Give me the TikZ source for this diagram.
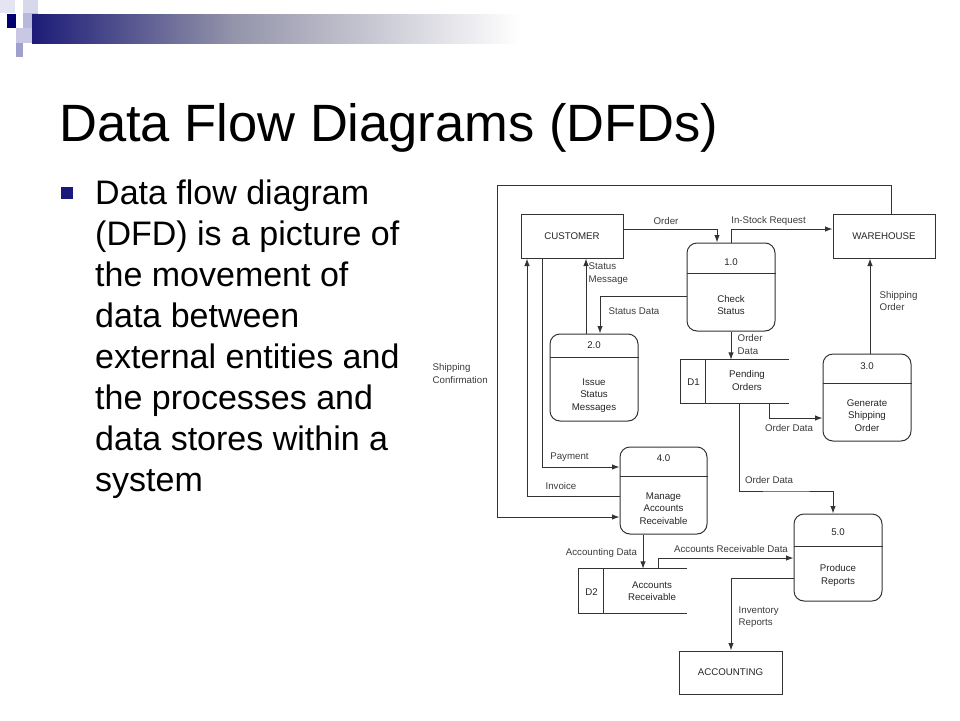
\documentclass[tikz,border=0pt]{standalone}
\usepackage{fontspec}
\setmainfont{Liberation Sans}
\usetikzlibrary{arrows.meta}
\definecolor{navy}{HTML}{1C1C78}
\definecolor{barmid}{HTML}{9494AA}
\definecolor{linec}{HTML}{333333}
\definecolor{txtc}{HTML}{262626}
\definecolor{lblc}{HTML}{3C3C3C}
\definecolor{sqa}{HTML}{E4E4F2}
\definecolor{sqb}{HTML}{D8D8EC}
\definecolor{sqc}{HTML}{B8B8DC}
\definecolor{sqd}{HTML}{C8C8E4}
\definecolor{sqe}{HTML}{A0A0CC}
\definecolor{sqn}{HTML}{000070}
\definecolor{bullc}{HTML}{1A1A7A}
\newcommand\dfdbox{\fontsize{9.7}{12.5}\selectfont}
\newcommand\dfdlbl{\fontsize{9.7}{12.5}\selectfont}
\tikzset{
  lc/.style={draw=linec, line width=1pt},
  ent/.style={draw=linec, line width=1pt, minimum width=102pt, minimum height=44pt, inner sep=0pt, font=\dfdbox, text=txtc},
  proc/.style={draw=linec, line width=1pt, rounded corners=10pt, minimum width=88pt, minimum height=87pt, inner sep=0pt},
  storearea/.style={minimum width=108pt, minimum height=43pt, inner sep=0pt},
  ptxt/.style={font=\dfdbox, text=txtc, align=center, inner sep=0pt},
  lbl/.style={font=\dfdlbl, text=lblc, align=left, inner sep=0pt},
  flow/.style={draw=linec, line width=1pt, -{Latex[length=7.5pt,width=5.5pt]}},
}
\begin{document}
\begin{tikzpicture}[x=1pt,y=-1pt]
\useasboundingbox (0,0) rectangle (960,720);
\fill[white] (0,0) rectangle (960,720);
% header decoration
\fill[sqa] (0,0) rectangle (15,13);
\fill[sqb] (23,0) rectangle (38,13);
\fill[sqn] (7,14) rectangle (16,28);
\fill[sqc] (23,13) rectangle (38,28);
\fill[sqd] (16,28) rectangle (32,43);
\fill[sqe] (16,43) rectangle (23,57);
\shade[left color=navy, right color=barmid] (32,14) rectangle (234,43);
\shade[left color=barmid, right color=white] (233.5,14) rectangle (520,43);
% title and text
\node[anchor=base west, inner sep=0pt, font=\fontsize{52.5}{60}\selectfont] (title) at (59,141) {Data Flow Diagrams (DFDs)};
\fill[bullc] (61,187) rectangle (73,199);
\node[anchor=base west, inner sep=0pt, align=left, font=\fontsize{34}{41}\selectfont] (body) at (95,491)
 {Data flow diagram\\(DFD) is a picture of\\the movement of\\data between\\external entities and\\the processes and\\data stores within a\\system};
% entities
\node[ent] (cust) at (572,236) {CUSTOMER};
\node[ent] (ware) at (884,236) {WAREHOUSE};
\node[ent, minimum width=103pt, minimum height=43pt] (acct) at (730.5,672.5) {ACCOUNTING};
% processes
\node[proc, minimum height=88pt] (p1) at (731,287) {};
\draw[lc] (p1.west |- 0,273) -- (p1.east |- 0,273);
\node[ptxt] (p1n) at (731,262) {1.0};
\node[ptxt] (p1t) at (731,305) {Check\\Status};
\node[proc] (p2) at (594,377.5) {};
\draw[lc] (p2.west |- 0,357) -- (p2.east |- 0,357);
\node[ptxt] (p2n) at (594,345) {2.0};
\node[ptxt] (p2t) at (594,395.5) {Issue\\Status\\Messages};
\node[proc] (p3) at (867,397.5) {};
\draw[lc] (p3.west |- 0,383) -- (p3.east |- 0,383);
\node[ptxt] (p3n) at (867,366) {3.0};
\node[ptxt] (p3t) at (867,415.5) {Generate\\Shipping\\Order};
\node[proc, minimum width=87pt] (p4) at (663.5,490.5) {};
\draw[lc] (p4.west |- 0,476) -- (p4.east |- 0,476);
\node[ptxt] (p4n) at (663.5,458) {4.0};
\node[ptxt] (p4t) at (663.5,508.5) {Manage\\Accounts\\Receivable};
\node[proc] (p5) at (838,557.5) {};
\draw[lc] (p5.west |- 0,546) -- (p5.east |- 0,546);
\node[ptxt] (p5n) at (838,532) {5.0};
\node[ptxt] (p5t) at (838,575.5) {Produce\\Reports};
% data stores
\node[storearea] (d1) at (735,381.5) {};
\draw[lc] (d1.north east) -- (d1.north west) -- (d1.south west) -- (d1.south east);
\draw[lc] ([xshift=25pt]d1.north west) -- ([xshift=25pt]d1.south west);
\node[ptxt] (d1id) at (693.5,382) {D1};
\node[ptxt] (d1nm) at (747,380.5) {Pending\\Orders};
\node[storearea, minimum height=44pt] (d2) at (633,591) {};
\draw[lc] (d2.north east) -- (d2.north west) -- (d2.south west) -- (d2.south east);
\draw[lc] ([xshift=25pt]d2.north west) -- ([xshift=25pt]d2.south west);
\node[ptxt] (d2id) at (591.5,592) {D2};
\node[ptxt] (d2nm) at (652,591) {Accounts\\Receivable};
% flows
\coordinate (topR) at (891,185);
\coordinate (topL) at (497,185);
\draw[flow] (cust.east |- 0,229) -| (p1.north -| 717,0);
\draw[flow] (p1.north -| 731,0) |- (ware.west |- 0,229);
\draw[flow] (p2.north -| 586,0) -- (cust.south -| 586,0);
\draw[flow] (p1.west |- 0,296) -| (p2.north -| 600,0);
\draw[flow] (p1.south -| 731,0) -- (d1.north -| 731,0);
\draw[flow] (d1.south -| 769,0) |- (p3.west |- 0,418);
\draw[flow] (p3.north -| 870,0) -- (ware.south -| 870,0);
\draw[flow] (d1.south -| 739,0) |- (786,491) -| (p5.north -| 833,0);
\draw[flow] (cust.south -| 542,0) |- (p4.west |- 0,467);
\draw[flow] (p4.west |- 0,496) -| (cust.south -| 527,0);
\draw[flow] (ware.north -| topR) -- (topR) -- (topL) |- (p4.west |- 0,517);
\draw[flow] (p4.south -| 643,0) -- (d2.north -| 643,0);
\draw[flow] (d2.north -| 658,0) |- (p5.west |- 0,558);
\draw[flow] (p5.west |- 0,578) -| (acct.north -| 731,0);
% labels
\node[lbl] (lorder) at (666,221) {Order};
\node[lbl] (lisr) at (768.5,221) {In-Stock Request};
\node[lbl, anchor=west] (lsm) at (588.5,273.5) {Status\\Message};
\node[lbl] (lsd) at (634,311) {Status Data};
\node[lbl, anchor=west] (lod1) at (737.5,344.5) {Order\\Data};
\node[lbl] (lod2) at (789,428) {Order Data};
\node[lbl, anchor=west] (lso) at (879.5,301) {Shipping\\Order};
\node[lbl] (lod3) at (769,480) {Order Data};
\node[lbl] (lpay) at (569.5,457) {Payment};
\node[lbl] (linv) at (561,486) {Invoice};
\node[lbl, anchor=west] (lsc) at (432.5,373.5) {Shipping\\Confirmation};
\node[lbl] (lad) at (601.5,553) {Accounting Data};
\node[lbl] (lard) at (731,549) {Accounts Receivable Data};
\node[lbl, anchor=west] (lir) at (738.5,617) {Inventory\\Reports};
\end{tikzpicture}
\end{document}
